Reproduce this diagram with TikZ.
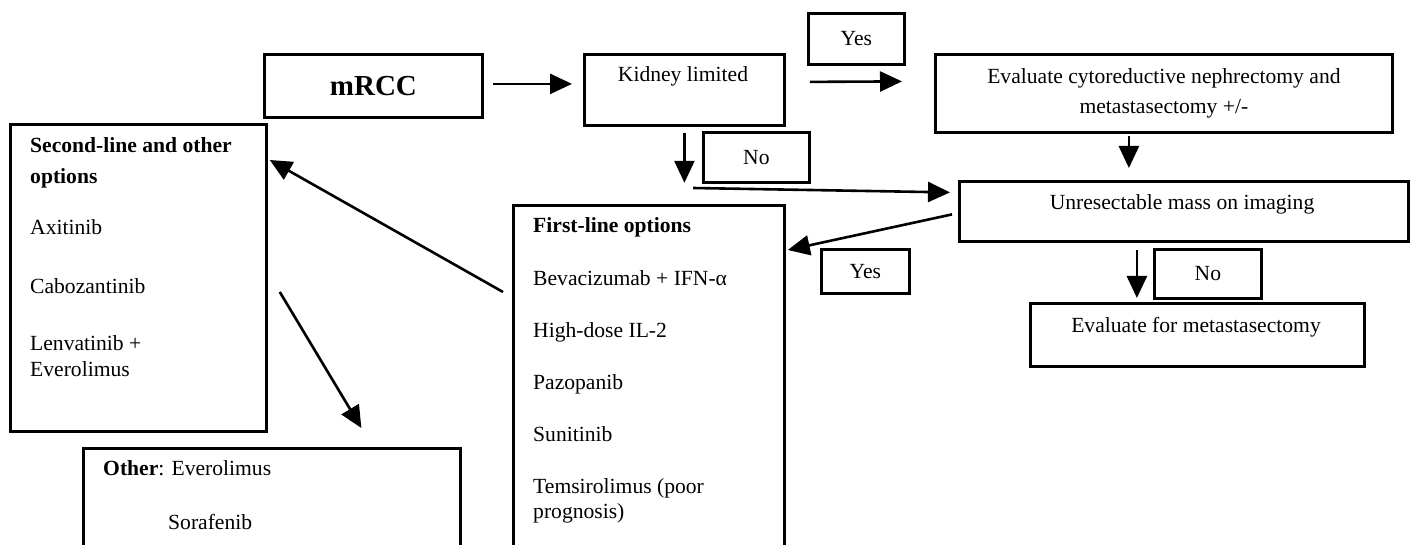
\documentclass[tikz,border=0pt]{standalone}
\usepackage{fontspec}
\setmainfont{Liberation Serif}
\usetikzlibrary{arrows.meta,calc}
\tikzset{
  box/.style={draw,line width=2.8pt,anchor=north west,inner sep=0pt},
  flow/.style={line width=2.6pt,-{Triangle[length=22pt,width=20pt]}},
  txt/.style={inner sep=0pt,font=\fontsize{21.6}{25}\selectfont},
}

\begin{document}
\begin{tikzpicture}[x=1pt,y=-1pt]
\useasboundingbox (0,0) rectangle (1410,545);
\clip (0,0) rectangle (1410,545);
\node[box,minimum width=218pt,minimum height=63pt,font=\fontsize{29}{34}\selectfont\bfseries] (mrcc) at (263,53) {mRCC};
\node[box,minimum width=200pt,minimum height=71pt] (kid) at (583,53) {};
\node[txt,anchor=base] (kidt) at (683,82) {Kidney limited};
\node[box,txt,minimum width=96pt,minimum height=51pt] (yes1) at (807,12) {Yes};
\node[box,txt,align=center,minimum width=457pt,minimum height=78pt] (evalcn) at (934,53) {Evaluate cytoreductive nephrectomy and\\[5pt]metastasectomy +/-};
\node[box,txt,minimum width=106pt,minimum height=50pt] (no1) at (702,131) {No};
\node[box,minimum width=449pt,minimum height=60pt] (unres) at (958,180) {};
\node[txt,anchor=base] (unrest) at (1182,210) {Unresectable mass on imaging};
\node[box,minimum width=271pt,minimum height=400pt] (first) at (512,204) {};
\node[box,txt,minimum width=88pt,minimum height=44pt] (yes2) at (820,248) {Yes};
\node[box,txt,minimum width=107pt,minimum height=49pt] (no2) at (1153,248) {No};
\node[box,minimum width=334pt,minimum height=63pt] (evalm) at (1029,302) {};
\node[txt,anchor=base] (evalmt) at (1196,332) {Evaluate for metastasectomy};
\node[box,minimum width=256pt,minimum height=307pt] (second) at (9,123) {};
\node[box,minimum width=377pt,minimum height=200pt] (other) at (82,447) {};

\foreach \t/\y [count=\i] in {{\textbf{First-line options}}/233,{Bevacizumab + IFN-α}/285,{High-dose IL-2}/337,Pazopanib/389,Sunitinib/441,{Temsirolimus (poor}/493,prognosis)/518}
  \node[txt,anchor=base west] (fl\i) at (533,\y) {\t};
\foreach \t/\y [count=\i] in {{\textbf{Second-line and other}}/153,{\textbf{options}}/184,Axitinib/235,Cabozantinib/293,{Lenvatinib +}/350,Everolimus/376}
  \node[txt,anchor=base west] (sl\i) at (30,\y) {\t};
\node[txt,anchor=base west] (oth1) at (103,475) {\textbf{Other}: Everolimus};
\node[txt,anchor=base west] (oth2) at (168,529) {Sorafenib};

\coordinate (split) at (693,188);
\draw[flow] ($(mrcc.east)+(9,-2)$) -- ($(kid.west)+(-11,-6)$);
\draw[flow] ($(kid.east)+(24,-8)$) -- ($(evalcn.west)+(-32,-12)$);
\draw[flow] ($(kid.south)+(0,6)$) -- ($(kid.south)+(0,56)$);
\draw[flow] (split) -- ($(unres.west)+(-8,-19)$);
\draw[flow] ($(evalcn.south)+(-35,2)$) -- ($(evalcn.south |- unres.north)+(-35,-12)$);
\draw[flow] ($(unres.west)+(-6,3)$) -- ($(first.north east)+(2,46)$);
\draw[flow] ($(unres.south)+(-47,7)$) -- ($(unres.south |- evalm.north)+(-47,-4)$);
\draw[flow] ($(first.north west)+(-9,88)$) -- ($(second.north east)+(2,37)$);
\draw[flow] ($(second.north east)+(12,169)$) -- ($(other.north)+(89.5,-19)$);
\end{tikzpicture}
\end{document}
